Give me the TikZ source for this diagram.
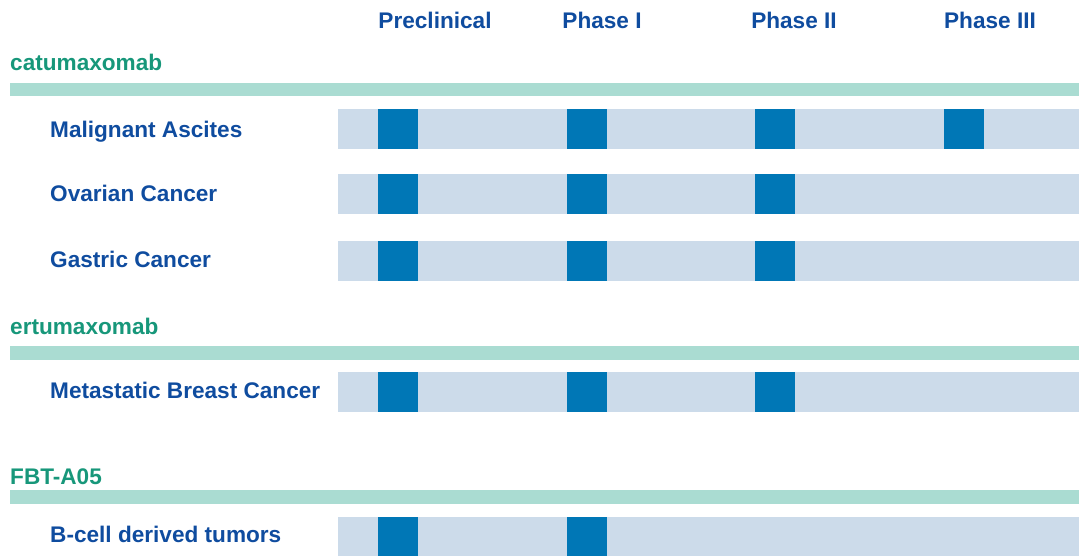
\documentclass[tikz,border=0pt]{standalone}
\usepackage{fontspec}
\setmainfont{Liberation Sans}
\definecolor{groupgreen}{HTML}{17977A}
\definecolor{labelblue}{HTML}{0F4C9F}
\definecolor{rulegreen}{HTML}{AADCD2}
\definecolor{trackblue}{HTML}{CCDBEA}
\definecolor{stageblue}{HTML}{0077B6}
\tikzset{
  txt/.style={inner sep=0pt, font=\fontsize{22.6}{26}\selectfont\bfseries},
  header/.style={txt, text=labelblue, anchor=base},
  grouplabel/.style={txt, text=groupgreen, anchor=base west},
  rowlabel/.style={txt, text=labelblue, anchor=base west},
  grouprule/.style={fill=rulegreen},
  track/.style={fill=trackblue},
  stage/.style={fill=stageblue},
}
% one indication row: #1 top edge, #2 number of stages reached
\newcommand{\pipelinerow}[2]{%
  \fill[track] (338,#1) rectangle (1079,#1+40);
  \foreach \sx [count=\k] in {378,567,755,944}{%
    \ifnum\k>#2\relax\else
      \fill[stage] (\sx,#1) rectangle (\sx+40,#1+40);
    \fi
  }%
}
\begin{document}
\begin{tikzpicture}[x=1pt,y=-1pt]
\useasboundingbox (0,0) rectangle (1079,556);

% phase headers
\node[header] (hpre) at (435,29) {Preclinical};
\node[header] (hp1)  at (602,29) {Phase I};
\node[header] (hp2)  at (794,29) {Phase II};
\node[header] (hp3)  at (990,29) {Phase III};

% catumaxomab
\node[grouplabel] (gcat) at (10,71) {catumaxomab};
\fill[grouprule] (10,83) rectangle (1079,96);
\node[rowlabel] (rma) at (50,138) {Malignant Ascites};
\pipelinerow{109}{4}
\node[rowlabel] (roc) at (50,202) {Ovarian Cancer};
\pipelinerow{174}{3}
\node[rowlabel] (rgc) at (50,268) {Gastric Cancer};
\pipelinerow{241}{3}

% ertumaxomab
\node[grouplabel] (gert) at (10,334) {ertumaxomab};
\fill[grouprule] (10,346) rectangle (1079,360);
\node[rowlabel] (rmb) at (50,398) {Metastatic Breast Cancer};
\pipelinerow{372}{3}

% FBT-A05
\node[grouplabel] (gfbt) at (10,484) {FBT-A05};
\fill[grouprule] (10,490) rectangle (1079,504);
\node[rowlabel] (rbc) at (50,542) {B-cell derived tumors};
\fill[track] (338,517) rectangle (1079,556);
\fill[stage] (378,517) rectangle (418,556);
\fill[stage] (567,517) rectangle (607,556);
\end{tikzpicture}
\end{document}
